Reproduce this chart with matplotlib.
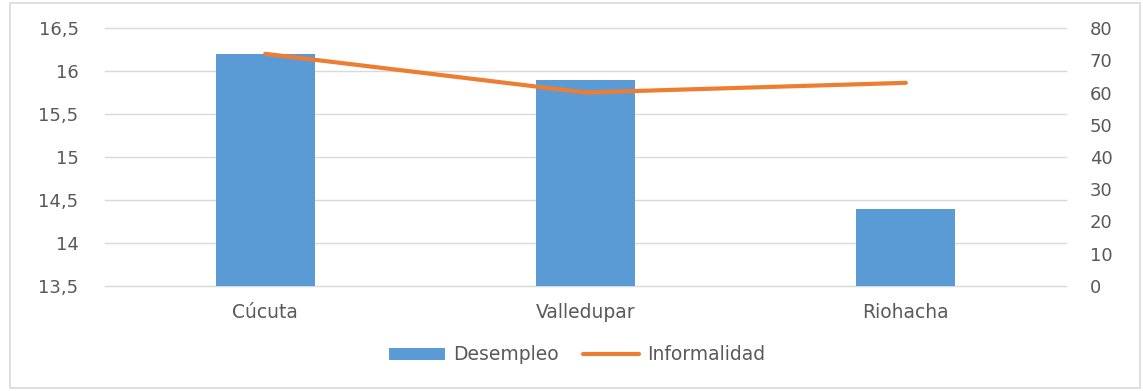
import matplotlib
matplotlib.use("Agg")
import matplotlib.pyplot as plt
from matplotlib.patches import Rectangle
from matplotlib.ticker import FuncFormatter

ciudades = ["Cúcuta", "Valledupar", "Riohacha"]
desempleo = [16.2, 15.9, 14.4]
informalidad = [72, 60, 63]

plt.rcParams["font.family"] = ["DejaVu Sans"]
text_color = "#595959"
grid_color = "#d9d9d9"
bar_color = "#5B9BD5"
line_color = "#ED7D31"

fig = plt.figure(figsize=(11.43, 3.91), dpi=100)
fig.patch.set_facecolor("white")

# chart frame
fig.patches.append(Rectangle((10 / 1143, 3 / 391), 1130 / 1143, 385 / 391,
                             transform=fig.transFigure, fill=False,
                             edgecolor=grid_color, linewidth=1.2))

ax = fig.add_axes([105 / 1143, 1 - 286 / 391, 961 / 1143, 258 / 391])
x = range(len(ciudades))
ax.bar(x, desempleo, width=0.31, color=bar_color, zorder=2, label="Desempleo")
ax.set_ylim(13.5, 16.5)
ax.set_yticks([13.5, 14, 14.5, 15, 15.5, 16, 16.5])
ax.yaxis.set_major_formatter(FuncFormatter(lambda v, p: f"{v:g}".replace(".", ",")))
ax.set_xlim(-0.5, 2.5)
ax.set_xticks(list(x))
ax.set_xticklabels(ciudades)
ax.grid(axis="y", color=grid_color, linewidth=1, zorder=0)
for gl in ax.get_ygridlines():
    gl.set_clip_on(False)
ax.set_axisbelow(True)
for s in ax.spines.values():
    s.set_visible(False)
ax.tick_params(axis="both", length=0, colors=text_color, labelsize=13)
ax.tick_params(axis="x", pad=12, labelsize=13.5)
ax.tick_params(axis="y", pad=19)

ax2 = ax.twinx()
ax2.plot(list(x), informalidad, color=line_color, linewidth=3,
         solid_capstyle="round", zorder=3, label="Informalidad")
ax2.set_ylim(0, 80)
ax2.set_yticks(range(0, 81, 10))
for s in ax2.spines.values():
    s.set_visible(False)
ax2.yaxis.set_tick_params(which="both", length=0, colors=text_color,
                          labelsize=13, pad=17)

h1, l1 = ax.get_legend_handles_labels()
h2, l2 = ax2.get_legend_handles_labels()
fig.legend(h1 + h2, l1 + l2, loc="center", bbox_to_anchor=(577 / 1143, 1 - 355 / 391),
           ncol=2, frameon=False, fontsize=13.5, labelcolor=text_color,
           handlelength=3.0, handleheight=0.55, handletextpad=0.4, columnspacing=1.3)

fig.savefig("out.png", dpi=100)
